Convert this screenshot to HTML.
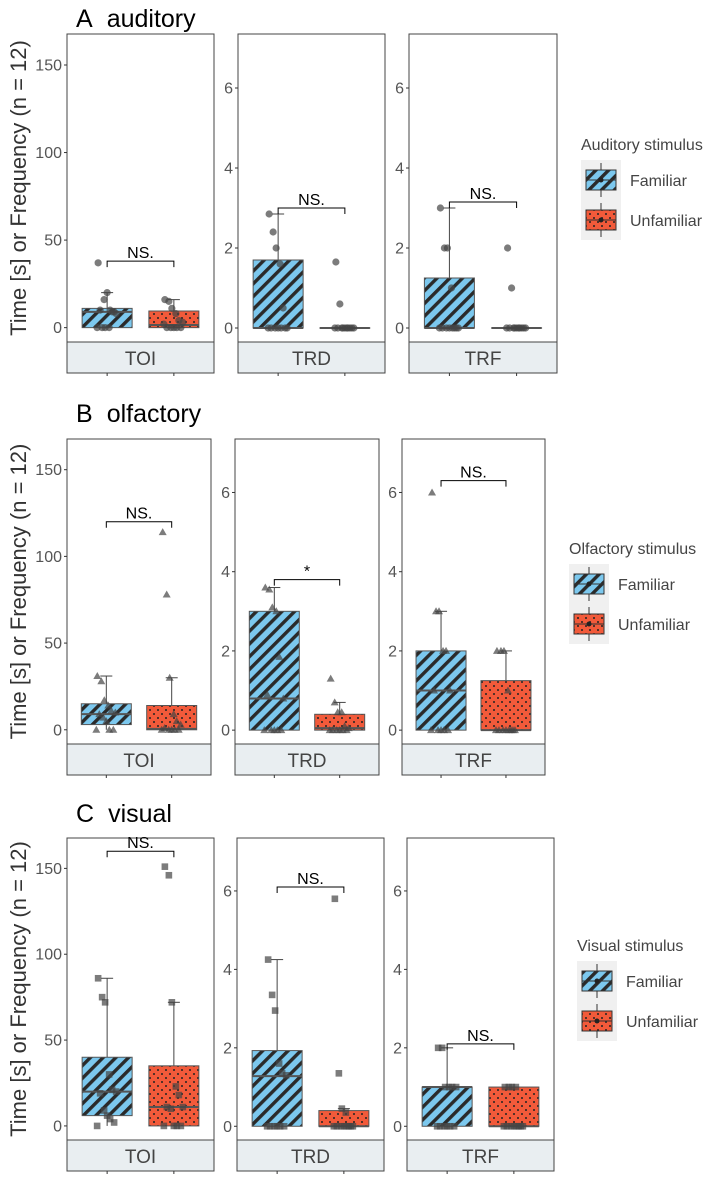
<!DOCTYPE html>
<html><head><meta charset="utf-8">
<style>
body{margin:0;background:#fff;}
svg{display:block;font-family:"Liberation Sans",Arial,sans-serif;}
</style></head>
<body>
<svg id="chart" width="708" height="1178" viewBox="0 0 708 1178">
<defs>
<pattern id="stripes" patternUnits="userSpaceOnUse" width="9" height="9" patternTransform="rotate(45)">
<rect width="9" height="9" fill="#7cc8ee"/><rect width="3.4" height="9" fill="#2a2a2a"/>
</pattern>
<pattern id="dots" patternUnits="userSpaceOnUse" width="8" height="8">
<rect width="8" height="8" fill="#f25a3a"/><circle cx="2" cy="2" r="1" fill="#222"/><circle cx="6" cy="6" r="1" fill="#222"/>
</pattern>
</defs>
</svg>
<script>
// ---- data ----
const modalities = ["auditory","olfactory","visual"];
const panelLetters = ["A","B","C"];
const legendTitles = ["Auditory stimulus","Olfactory stimulus","Visual stimulus"];
const measures = ["TOI","TRD","TRF"];
const groups = ["Familiar","Unfamiliar"];
const toiTicks = [0,50,100,150];
const smallTicks = [0,2,4,6];
// box stats: [whiskerLow, q1, median, q3, whiskerHigh]
const audFamBox = [[0,0,9,11,20],[0,0,0,1.7,2.85],[0,0,0,1.25,3]];
const audUnfBox = [[0,0,1.5,9.5,16],[0,0,0,0,0],[0,0,0,0,0]];
const olfFamBox = [[0,3,9,15,31],[0,0,0.8,3,3.6],[0,0,1,2,3]];
const olfUnfBox = [[0,0,0.5,14,30],[0,0,0.05,0.4,0.7],[0,0,0,1.25,2]];
const visFamBox = [[0,6,20,40,86],[0,0,1.28,1.93,4.25],[0,0,1,1,2]];
const visUnfBox = [[0,0,11,35,72],[0,0,0,0.4,0.45],[0,0,0,1,1]];
// raw points
const audFamPts = [[37,0,0,0,9,8,10,16,20,10,9,0],[2.85,2.4,2.0,1.6,0.5,0,0,0,0,0,0,0],[3,2,2,1,0,0,0,0,0,0,0,0]];
const audUnfPts = [[16,15,11,8,4,3,0,0,0,0,0,2],[1.65,0.6,0,0,0,0,0,0,0,0,0,0],[2,1,0,0,0,0,0,0,0,0,0,0]];
const olfFamPts = [[31,28,17,14,11,10,9,7,5,0,0,0],[3.6,3.55,3.1,3.0,1.85,0.8,0.9,0,0,0,0,0],[6,3,3,2,2,1,1,0,0,0,0,0]];
const olfUnfPts = [[114,78,30,9,5,3,1,0,0,0,0,0],[1.3,0.7,0.45,0.45,0.1,0.05,0,0,0,0,0,0],[2,2,2,1,0,0,0,0,0,0,0,0]];
const visFamPts = [[86,75,72,30,21,20,19,9,6,4,2,0],[4.25,3.35,2.95,1.6,1.35,1.3,0,0,0,0,0,0],[2,2,1,1,1,1,0,0,0,0,0,0]];
const visUnfPts = [[151,146,72,23,18,11,11,10,0,0,0,0],[5.8,1.35,0.45,0.35,0,0,0,0,0,0,0,0],[1,1,1,1,0,0,0,0,0,0,0,0]];
const bracketHeights = [[38,3.0,3.15],[120,3.8,6.3],[160,6.1,2.1]];
const bracketLabels = [["NS.","NS.","NS."],["NS.","*","NS."],["NS.","NS.","NS."]];

const famBoxes=[audFamBox,olfFamBox,visFamBox], unfBoxes=[audUnfBox,olfUnfBox,visUnfBox];
const famPts=[audFamPts,olfFamPts,visFamPts], unfPts=[audUnfPts,olfUnfPts,visUnfPts];

// ---- layout ----
const rows=[{top:34,strip:342,title:17,px:[[67,214],[238,385],[409,557]],lx:581,ly:145},
            {top:439,strip:744,title:412,px:[[67,211],[235,379],[402,545]],lx:569,ly:549},
            {top:838,strip:1140,title:812,px:[[67,214],[237,384],[407,554]],lx:577,ly:946}];
const toiDom=[-8.2,167.7], smDom=[-0.35,7.35];
const jit=[-9,-5,-2,2,5,9,-7,-3,0,3,7,-10];
const svg=document.getElementById('chart');
const NS='http://www.w3.org/2000/svg';
function mk(tag,attrs,parent){const e=document.createElementNS(NS,tag);for(const k in attrs)e.setAttribute(k,attrs[k]);(parent||svg).appendChild(e);return e;}

rows.forEach((R,r)=>{
  const g=mk('g',{});
  
  
  const t=mk('text',{x:76,y:R.title+10,'font-size':25,fill:'#000'},g);
  
  
  const t1=mk('tspan',{},t); t1.textContent=panelLetters[r];
  const t2=mk('tspan',{dx:14},t); t2.textContent=modalities[r];
  const cy=(R.top+R.strip)/2;
  const yt=mk('text',{x:0,y:0,'font-size':22,fill:'#333','text-anchor':'middle',transform:`translate(26,${cy}) rotate(-90)`},g);
  yt.textContent='Time [s] or Frequency (n = 12)';
  
  
  measures.forEach((m,mi)=>{
    const [x0,x1]=R.px[mi];
    const dom=mi===0?toiDom:smDom;
    const ticks=mi===0?toiTicks:smallTicks;
    const y=v=>R.strip-(v-dom[0])/(dom[1]-dom[0])*(R.strip-R.top);
    const xc=[x0+(x1-x0)*0.273,x0+(x1-x0)*0.727];
    const pg=mk('g',{},g);
    
    
    mk('rect',{x:x0,y:R.top,width:x1-x0,height:R.strip-R.top,fill:'#fff',stroke:'#444','stroke-width':1},pg);
    ticks.forEach(tv=>{
      mk('line',{x1:x0-3,x2:x0,y1:y(tv),y2:y(tv),stroke:'#333'},pg);
      const tl=mk('text',{x:x0-5,y:y(tv)+5.5,'font-size':16,fill:'#555','text-anchor':'end'},pg);
      tl.textContent=tv;
      
      
    });
    [famBoxes[r][mi],unfBoxes[r][mi]].forEach((b,gi)=>{
      const bx=mk('g',{},pg);
      
      
      const X=xc[gi],w=25;
      mk('line',{x1:X,x2:X,y1:y(b[3]),y2:y(b[4]),stroke:'#444','stroke-width':1},bx);
      mk('line',{x1:X,x2:X,y1:y(b[0]),y2:y(b[1]),stroke:'#444','stroke-width':1},bx);
      mk('line',{x1:X-6,x2:X+6,y1:y(b[4]),y2:y(b[4]),stroke:'#444'},bx);
      mk('rect',{x:X-w,y:y(b[3]),width:2*w,height:Math.max(y(b[1])-y(b[3]),0.01),fill:gi?'url(#dots)':'url(#stripes)',stroke:'#555','stroke-width':1},bx);
      mk('line',{x1:X-w,x2:X+w,y1:y(b[2]),y2:y(b[2]),stroke:'#555','stroke-width':2},bx);
      const pts=(gi?unfPts:famPts)[r][mi];
      pts.forEach((v,i)=>{
        const px=X+jit[i],py=y(v);
        let p;
        if(r===0) p=mk('circle',{cx:px,cy:py,r:3.6,fill:'#444','fill-opacity':0.7},bx);
        else if(r===1) p=mk('path',{d:`M${px},${py-4}L${px+4},${py+3}L${px-4},${py+3}Z`,fill:'#444','fill-opacity':0.7},bx);
        else p=mk('rect',{x:px-3.3,y:py-3.3,width:6.6,height:6.6,fill:'#444','fill-opacity':0.7},bx);
        
        
      });
    });
    const bh=y(bracketHeights[r][mi]);
    const br=mk('path',{d:`M${xc[0]},${bh+6}V${bh}H${xc[1]}V${bh+6}`,fill:'none',stroke:'#000','stroke-width':1},pg);
    
    
    const bl=mk('text',{x:(xc[0]+xc[1])/2,y:bh-3,'font-size':16,'text-anchor':'middle',fill:'#000'},pg);
    bl.textContent=bracketLabels[r][mi];
    
    
    mk('rect',{x:x0,y:R.strip,width:x1-x0,height:31,fill:'#e9eef1',stroke:'#444'},pg);
    const sl=mk('text',{x:(x0+x1)/2,y:R.strip+23,'font-size':19,'text-anchor':'middle',fill:'#444'},pg);
    sl.textContent=m;
    
    
    xc.forEach(X=>mk('line',{x1:X,x2:X,y1:R.strip+31,y2:R.strip+34,stroke:'#333'},pg));
  });
  // legend
  const lg=mk('g',{},g);
  
  
  const lt=mk('text',{x:R.lx,y:R.ly+5,'font-size':16,fill:'#444'},lg);
  lt.textContent=legendTitles[r];
  mk('rect',{x:R.lx,y:R.ly+15,width:40,height:80,fill:'#f0f0f0'},lg);
  groups.forEach((gname,gi)=>{
    const ky=R.ly+15+gi*40;
    const e=mk('g',{},lg);
    
    
    mk('line',{x1:R.lx+20,x2:R.lx+20,y1:ky+3,y2:ky+37,stroke:'#333'},e);
    mk('rect',{x:R.lx+5,y:ky+10,width:30,height:20,fill:gi?'url(#dots)':'url(#stripes)',stroke:'#333'},e);
    mk('line',{x1:R.lx+5,x2:R.lx+35,y1:ky+20,y2:ky+20,stroke:'#333'},e);
    mk('circle',{cx:R.lx+20,cy:ky+20,r:2.5,fill:'#222'},e);
    const et=mk('text',{x:R.lx+49,y:ky+26,'font-size':16,fill:'#444'},e);
    et.textContent=gname;
  });
});
</script>
</body></html>
